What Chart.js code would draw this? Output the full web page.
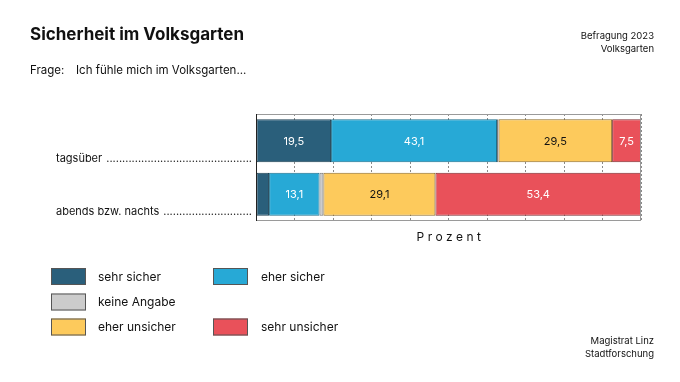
<!DOCTYPE html>
<html><head><meta charset="utf-8">
<script src="https://cdn.jsdelivr.net/npm/chart.js@4.4.0/dist/chart.umd.min.js"></script>
<style>html,body{margin:0;padding:0;background:#fff;overflow:hidden}canvas{display:block}</style>
</head><body>
<canvas id="c" width="680" height="382"></canvas>
<script>
const categories = ['tagsüber', 'abends bzw. nachts'];
const seriesNames = ['sehr sicher', 'eher sicher', 'keine Angabe', 'eher unsicher', 'sehr unsicher'];
const sehrSicher = [19.5, 3.4];
const eherSicher = [43.1, 13.1];
const keineAngabe = [0.4, 1.0];
const eherUnsicher = [29.5, 29.1];
const sehrUnsicher = [7.5, 53.4];
const xTicks = [0, 10, 20, 30, 40, 50, 60, 70, 80, 90, 100];
const colors = ['#2a5f7b', '#27a9d6', '#cccccc', '#fdca5c', '#e9515a'];
const borderColors = ['#1d3f52', '#1b6f8c', '#7a7a7a', '#8a6a2a', '#7a2a2e'];
const labelColors = ['#ffffff', '#ffffff', '#000000', '#111111', '#ffffff'];
const legendLayout = [[0, 1], [2], [3, 4]];

const FONT = 'Inter, "Liberation Sans", sans-serif';
const seriesValues = [sehrSicher, eherSicher, keineAngabe, eherUnsicher, sehrUnsicher];

const datasets = seriesNames.map((n, i) => ({
  label: n,
  data: seriesValues[i],
  backgroundColor: colors[i],
  borderColor: borderColors[i],
  borderWidth: 1,
  borderSkipped: false,
  categoryPercentage: 0.8,
  barPercentage: 1.0
}));

const fmt = v => v.toFixed(1).replace('.', ',');

const decor = {
  id: 'decor',
  beforeDatasetsDraw(chart) {},
  afterDatasetsDraw(chart) {
    const ctx = chart.ctx;
    const ca = chart.chartArea;
    ctx.save();
    // value labels
    ctx.font = '11px ' + FONT;
    ctx.textAlign = 'center';
    ctx.textBaseline = 'middle';
    chart.data.datasets.forEach((ds, di) => {
      const meta = chart.getDatasetMeta(di);
      meta.data.forEach((el, i) => {
        const v = ds.data[i];
        if (v < 5) return;
        ctx.fillStyle = labelColors[di];
        ctx.fillText(fmt(v), (el.x + el.base) / 2, el.y + 0.5);
      });
    });
    // frame
    ctx.lineWidth = 1;
    ctx.strokeStyle = '#9a9a9a';
    ctx.beginPath();
    ctx.moveTo(ca.left, ca.top + 0.5); ctx.lineTo(ca.right, ca.top + 0.5);
    ctx.moveTo(ca.left, ca.bottom - 0.5); ctx.lineTo(ca.right, ca.bottom - 0.5);
    ctx.moveTo(ca.right - 0.5, ca.top); ctx.lineTo(ca.right - 0.5, ca.bottom);
    ctx.stroke();
    ctx.strokeStyle = '#222';
    ctx.beginPath();
    ctx.moveTo(ca.left + 0.5, ca.top); ctx.lineTo(ca.left + 0.5, ca.bottom);
    ctx.stroke();
    ctx.restore();
  },
  afterDraw(chart) {
    const ctx = chart.ctx;
    const ca = chart.chartArea;
    ctx.save();
    ctx.fillStyle = '#111';
    ctx.textBaseline = 'alphabetic';
    ctx.textAlign = 'left';
    ctx.font = 'bold 17px ' + FONT;
    ctx.fillText('Sicherheit im Volksgarten', 30, 40);
    ctx.font = '11.5px ' + FONT;
    ctx.fillText('Frage:', 30, 74);
    ctx.fillText('Ich fühle mich im Volksgarten...', 76, 74);
    ctx.textAlign = 'right';
    ctx.font = '9.5px ' + FONT;
    ctx.fillText('Befragung 2023', 654, 39);
    ctx.fillText('Volksgarten', 654, 52);
    ctx.fillText('Magistrat Linz', 654, 344);
    ctx.fillText('Stadtforschung', 654, 357);

    // category labels with dot leaders
    ctx.textAlign = 'left';
    ctx.font = '11px ' + FONT;
    const meta0 = chart.getDatasetMeta(0);
    categories.forEach((c, i) => {
      const el = meta0.data[i];
      const y = el.y + el.height / 2 - 0.5;
      ctx.fillText(c, 56, y);
      const end = 56 + ctx.measureText(c).width;
      const dotW = ctx.measureText('.').width;
      const n = Math.floor((ca.left - 4 - end - 1) / dotW);
      ctx.textAlign = 'right';
      ctx.fillText('.'.repeat(Math.max(0, n)), ca.left - 4, y);
      ctx.textAlign = 'left';
    });

    // axis title
    ctx.font = '12px ' + FONT;
    ctx.textAlign = 'center';
    ctx.letterSpacing = '3.5px';
    ctx.fillText('Prozent', (ca.left + ca.right) / 2 + 2, ca.bottom + 20);
    ctx.letterSpacing = '0px';

    // legend
    const colX = [[51, 98], [213, 261]];
    const rowY = [268, 293.5, 318.5];
    ctx.font = '12px ' + FONT;
    ctx.textAlign = 'left';
    ctx.textBaseline = 'middle';
    legendLayout.forEach((row, r) => {
      row.forEach((si, k) => {
        const col = (row.length === 1) ? 0 : k;
        const [bx, tx] = colX[col];
        ctx.fillStyle = colors[si];
        ctx.fillRect(bx, rowY[r], 35, 17);
        ctx.strokeStyle = '#555';
        ctx.lineWidth = 1;
        ctx.strokeRect(bx + 0.5, rowY[r] + 0.5, 34, 16);
        ctx.fillStyle = '#111';
        ctx.fillText(seriesNames[si], tx, rowY[r] + 9);
      });
    });
    ctx.restore();
  }
};

new Chart(document.getElementById('c'), {
  type: 'bar',
  data: { labels: categories, datasets },
  options: {
    indexAxis: 'y',
    responsive: false,
    animation: false,
    layout: { padding: { left: 256, right: 39, top: 114, bottom: 161 } },
    plugins: { legend: { display: false }, tooltip: { enabled: false }, title: { display: false } },
    scales: {
      x: {
        stacked: true, min: 0, max: 100,
        afterBuildTicks: s => { s.ticks = xTicks.map(v => ({ value: v })); },
        afterFit: s => { s.height = 0; },
        ticks: { display: false },
        grid: { color: '#8a8a8a', lineWidth: 1, drawTicks: false },
        border: { display: false, dash: [2, 2] }
      },
      y: {
        stacked: true,
        afterFit: s => { s.width = 0; },
        ticks: { display: false },
        grid: { display: false, drawTicks: false },
        border: { display: false }
      }
    }
  },
  plugins: [decor]
});
</script>
</body></html>
